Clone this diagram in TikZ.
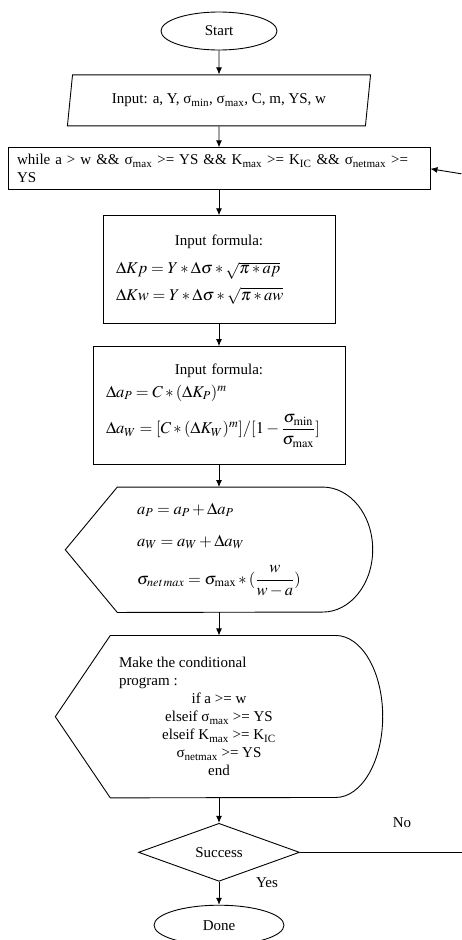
\documentclass[tikz,border=0pt]{standalone}
\usepackage{amsmath}
\usepackage{mathptmx}
\usepackage{fontspec}
\setmainfont{Liberation Serif}
\usepackage{tikz}
\usetikzlibrary{shapes.geometric,arrows.meta,positioning,calc}

\newcommand{\bigmath}[1]{{\fontsize{16.5}{20}\selectfont$#1$}}

\begin{document}
\begin{tikzpicture}[
      x=1pt, y=1pt,
      every node/.style = {font=\fontsize{15}{18}\selectfont},
      term/.style    = {ellipse, draw, line width=0.9pt, inner sep=0pt},
      io/.style      = {trapezium, trapezium left angle=79, trapezium right angle=101,
                        trapezium stretches=true, draw, line width=0.9pt},
      box/.style     = {rectangle, draw, line width=0.9pt},
      disp/.style    = {rectangle, inner sep=0pt},
      decide/.style  = {diamond, draw, line width=0.9pt, inner sep=0pt},
      arrow/.style   = {-{Latex[length=7pt,width=6pt]}, line width=0.9pt},
      outline/.style = {line width=0.9pt}
    ]
    \useasboundingbox (0,0) rectangle (462,-940);

    \node[term, minimum width=116pt, minimum height=38pt] (start) at (219,-31) {Start};
    \node[io, minimum width=304pt, minimum height=51pt, below=24pt of start] (input)
      {Input: a, Y, σ\textsubscript{min}, σ\textsubscript{max}, C, m, YS, w};
    \node[box, minimum width=422pt, minimum height=42pt, text width=404pt, align=left,
          inner xsep=9pt, inner ysep=2pt, below=21pt of input] (while)
      {while a > w \&\& σ\textsubscript{max} >= YS \&\& K\textsubscript{max} >= K\textsubscript{IC} \&\& σ\textsubscript{netmax} >=\\ YS};
    \node[box, minimum width=232pt, minimum height=108pt, text width=206pt, align=left,
          below=25pt of while] (frmA)
      {{\centering Input formula:\par}\vspace{10pt}
       \bigmath{\Delta Kp = Y * \Delta\sigma * \sqrt{\pi * ap}}\\[7pt]
       \bigmath{\Delta Kw = Y * \Delta\sigma * \sqrt{\pi * aw}}};
    \node[box, minimum width=252pt, minimum height=118pt, text width=226pt, align=left,
          below=22pt of frmA] (frmB)
      {{\centering Input formula:\par}\vspace{5pt}
       \bigmath{\Delta a_P = C * (\Delta K_P)^m}\\[12pt]
       \mbox{\bigmath{\Delta a_W = [C * (\Delta K_W)^m]/[1 - \dfrac{\sigma_{\mathrm{min}}}{\sigma_{\mathrm{max}}}]}}};
    \node[disp, minimum width=307pt, minimum height=125pt, align=left, below=22pt of frmB] (upd)
      {\bigmath{a_P = a_P + \Delta a_P}\\[14pt]
       \bigmath{a_W = a_W + \Delta a_W}\\[16pt]
       \bigmath{\sigma_{\mathit{net\,max}} = \sigma_{\max} * (\dfrac{w}{w-a})}};
    \node[disp, minimum width=327pt, minimum height=162pt, below=23pt of upd] (cond)
      {\parbox{200pt}{{\raggedright Make the conditional\\ program :\par}\centering
       if a >= w\\ elseif σ\textsubscript{max} >= YS\\ elseif K\textsubscript{max} >= K\textsubscript{IC}\\
       σ\textsubscript{netmax} >= YS\\ end}};
    \node[decide, minimum width=161pt, minimum height=58pt, below=25pt of cond] (succ) {Success};
    \node[term, minimum width=130pt, minimum height=40pt, below=23pt of succ] (done) {Done};

    \node (nolbl) at (402,-823) {No};
    \node (yeslbl) at (267,-883) {Yes};
    \coordinate (noend) at ($(succ.east)+(162,0)$);
    \coordinate (loopin) at ($(while.east)+(31,-5)$);

    % display outlines
    \draw[outline] (upd.west) -- ([xshift=52pt]upd.north west) -- ([xshift=-50pt]upd.north east)
      arc[start angle=90, end angle=-90, x radius=50pt, y radius=62.5pt]
      -- ([xshift=52pt]upd.south west) -- cycle;
    \draw[outline] (cond.west) -- ([xshift=55pt]cond.north west) -- ([xshift=-47pt]cond.north east)
      arc[start angle=90, end angle=-90, x radius=47pt, y radius=81pt]
      -- ([xshift=55pt]cond.south west) -- cycle;

    \draw[arrow] (start) -- (input);
    \draw[arrow] (input) -- (while);
    \draw[arrow] (while) -- (frmA);
    \draw[arrow] (frmA)  -- (frmB);
    \draw[arrow] (frmB)  -- (upd);
    \draw[arrow] (upd)   -- (cond);
    \draw[arrow] (cond)  -- (succ);
    \draw[arrow] (succ)  -- (done);
    \draw[outline] (succ.east) -- (noend);
    \draw[arrow] (loopin) -- (while.east);
  \end{tikzpicture}
\end{document}
